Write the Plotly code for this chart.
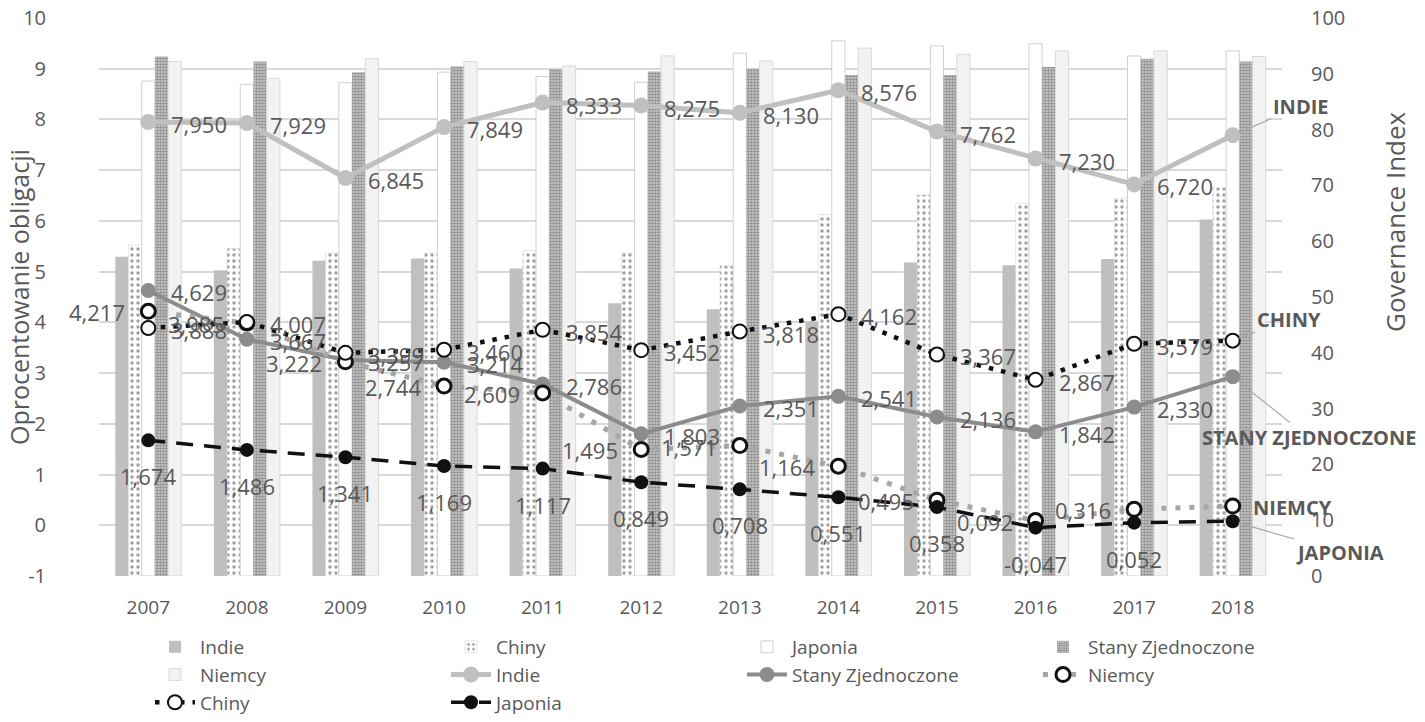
import plotly.graph_objects as go

years = list(range(2007, 2019))
year_labels = [str(y) for y in years]

# Governance Index (right axis, bars)
gov_indie = [57.2, 54.8, 56.5, 56.9, 55.1, 48.9, 47.8, 45.6, 56.2, 55.7, 56.8, 63.9]
gov_chiny = [59.3, 58.7, 57.9, 57.9, 58.3, 57.9, 55.6, 64.8, 68.3, 66.8, 67.7, 69.6]
gov_japonia = [88.7, 88.1, 88.4, 90.3, 89.5, 88.5, 93.7, 95.9, 95.0, 95.4, 93.2, 94.1]
gov_usa = [93.1, 92.2, 90.3, 91.3, 90.8, 90.4, 90.9, 89.8, 89.8, 91.2, 92.7, 92.2]
gov_niemcy = [92.2, 89.2, 92.7, 92.2, 91.4, 93.2, 92.3, 94.6, 93.5, 94.1, 94.1, 93.1]

# Bond yields (left axis, lines)
yld_indie = [7.950, 7.929, 6.845, 7.849, 8.333, 8.275, 8.130, 8.576, 7.762, 7.230, 6.720, 7.69]
yld_usa = [4.629, 3.667, 3.257, 3.214, 2.786, 1.803, 2.351, 2.541, 2.136, 1.842, 2.330, 2.93]
yld_niemcy = [4.217, 3.985, 3.222, 2.744, 2.609, 1.495, 1.571, 1.164, 0.495, 0.092, 0.316, 0.38]
yld_chiny = [3.888, 4.007, 3.399, 3.460, 3.854, 3.452, 3.818, 4.162, 3.367, 2.867, 3.579, 3.64]
yld_japonia = [1.674, 1.486, 1.341, 1.169, 1.117, 0.849, 0.708, 0.551, 0.358, -0.047, 0.052, 0.08]

left_ticks = list(range(-1, 11))
left_tick_text = [str(v) for v in left_ticks]
right_ticks = list(range(0, 101, 10))

W, H = 1425, 722
ML, MR, MT, MB = 99, 143, 18, 146
PW, PH = W - ML - MR, H - MT - MB

FONT = "Open Sans"
TXT = "#595959"


def px_x(px):
    return (px - ML) / PW


def px_y(py):
    return (H - MB - py) / PH


fig = go.Figure()

bar_common = dict(x=years, yaxis="y")
fig.add_bar(name="Indie", y=gov_indie, marker=dict(color="#bfbfbf", line=dict(width=0)), **bar_common)
fig.add_bar(name="Chiny", y=gov_chiny,
            marker=dict(color="white", line=dict(color="#d9d9d9", width=0.6),
                        pattern=dict(shape=".", fgcolor="#404040", bgcolor="white", size=6, solidity=0.25)),
            **bar_common)
fig.add_bar(name="Japonia", y=gov_japonia,
            marker=dict(color="white", line=dict(color="#d0d0d0", width=1)), **bar_common)
fig.add_bar(name="Stany Zjednoczone", y=gov_usa,
            marker=dict(color="#8c8c8c", line=dict(width=0),
                        pattern=dict(shape=".", fgcolor="#4d4d4d", bgcolor="#d0d0d0", size=3, solidity=0.6)),
            **bar_common)
fig.add_bar(name="Niemcy", y=gov_niemcy,
            marker=dict(color="#f2f2f2", line=dict(color="#d9d9d9", width=1)), **bar_common)


def fmt(v):
    return f"{v:.3f}".replace(".", ",")


line_common = dict(x=years, yaxis="y2", mode="lines+markers", cliponaxis=False)
fig.add_scatter(name="Indie", y=yld_indie, line=dict(color="#c0c0c0", width=5),
                marker=dict(size=16, color="#c0c0c0"), **line_common)
fig.add_scatter(name="Stany Zjednoczone", y=yld_usa, line=dict(color="#8c8c8c", width=4),
                marker=dict(size=15, color="#8c8c8c"), **line_common)
fig.add_scatter(name="Niemcy", y=yld_niemcy, line=dict(color="#a6a6a6", width=5, dash="5px,9px"),
                marker=dict(size=14, color="white", line=dict(color="#111111", width=3)), **line_common)
fig.add_scatter(name="Chiny", y=yld_chiny, line=dict(color="#111111", width=4.5, dash="4.5px,8px"),
                marker=dict(size=14, color="white", line=dict(color="#111111", width=2)), **line_common)
fig.add_scatter(name="Japonia", y=yld_japonia, line=dict(color="#111111", width=3.5, dash="17px,11px"),
                marker=dict(size=14, color="#111111"), **line_common)

annotations = []
label_font = dict(family=FONT, size=22, color=TXT)


def add_labels(values, side):
    for yr, v in zip(years[:-1], values[:-1]):
        a = dict(x=yr, y=v, xref="x", yref="y2", text=fmt(v), showarrow=False, font=label_font)
        if side == "right":
            a.update(xanchor="left", yanchor="middle", xshift=21, yshift=-2)
        elif side == "left":
            a.update(xanchor="right", yanchor="middle", xshift=-21, yshift=-1)
        else:
            a.update(xanchor="center", yanchor="middle", yshift=-36)
        annotations.append(a)


add_labels(yld_indie, "right")
add_labels(yld_usa, "right")
add_labels(yld_chiny, "right")
add_labels(yld_niemcy, "left")
add_labels(yld_japonia, "below")

# series name callouts at the last year
callout_font = dict(family=FONT, size=20, color=TXT)
last = years[-1]
for name, vals, ax, ay, arrow in [
    ("INDIE", yld_indie, 68, -29, True),
    ("CHINY", yld_chiny, 56, -21, True),
    ("STANY ZJEDNOCZONE", yld_usa, 76, 61, True),
    ("NIEMCY", yld_niemcy, 60, 1, False),
    ("JAPONIA", yld_japonia, 107, 31, True),
]:
    a = dict(x=last, y=vals[-1], xref="x", yref="y2", text="<b>" + name + "</b>",
             font=callout_font, xanchor="center", yanchor="middle")
    if arrow:
        a.update(showarrow=True, ax=ax, ay=ay, arrowhead=0, arrowwidth=1.2,
                 arrowcolor="#a6a6a6", standoff=6)
    else:
        a.update(showarrow=False, xshift=ax, yshift=-ay)
    annotations.append(a)

# axis titles
annotations.append(dict(x=px_x(19), y=px_y(297), xref="paper", yref="paper",
                        xanchor="center", yanchor="middle",
                        text="Oprocentowanie obligacji", textangle=-90, showarrow=False,
                        font=dict(family=FONT, size=25, color=TXT)))
annotations.append(dict(x=px_x(1395), y=px_y(222), xref="paper", yref="paper",
                        xanchor="center", yanchor="middle",
                        text="Governance Index", textangle=-90, showarrow=False,
                        font=dict(family=FONT, size=26, color=TXT)))

NO_TICK = "rgba(0,0,0,0)"
fig.update_layout(
    width=W, height=H,
    margin=dict(l=ML, r=MR, t=MT, b=MB, pad=0, autoexpand=False),
    paper_bgcolor="white", plot_bgcolor="white",
    barmode="group", bargap=0.33, bargroupgap=0,
    font=dict(family=FONT, size=19, color=TXT),
    xaxis=dict(range=[2006.5, 2018.5], tickvals=years, ticktext=year_labels,
               showgrid=False, showline=False, zeroline=False,
               ticks="outside", ticklen=14, tickcolor=NO_TICK,
               tickfont=dict(size=19, color=TXT)),
    yaxis=dict(side="right", range=[0, 100], tickvals=right_ticks, showgrid=False,
               zeroline=False, showline=False, ticks="outside", ticklen=24, tickcolor=NO_TICK,
               tickfont=dict(size=20, color=TXT)),
    yaxis2=dict(side="left", overlaying="y", range=[-1, 10], tickvals=left_ticks,
                ticktext=left_tick_text,
                showgrid=True, gridcolor="#d9d9d9", gridwidth=1.5, zeroline=False,
                showline=False, ticks="outside", ticklen=48, tickcolor=NO_TICK,
                tickfont=dict(size=20, color=TXT)),
    legend=dict(orientation="h", x=px_x(150), xanchor="left", y=px_y(628), yanchor="top",
                entrywidth=241, entrywidthmode="pixels", font=dict(size=19, color=TXT),
                itemwidth=40, tracegroupgap=0),
    annotations=annotations,
    showlegend=True,
)

fig.write_html("out.html")
